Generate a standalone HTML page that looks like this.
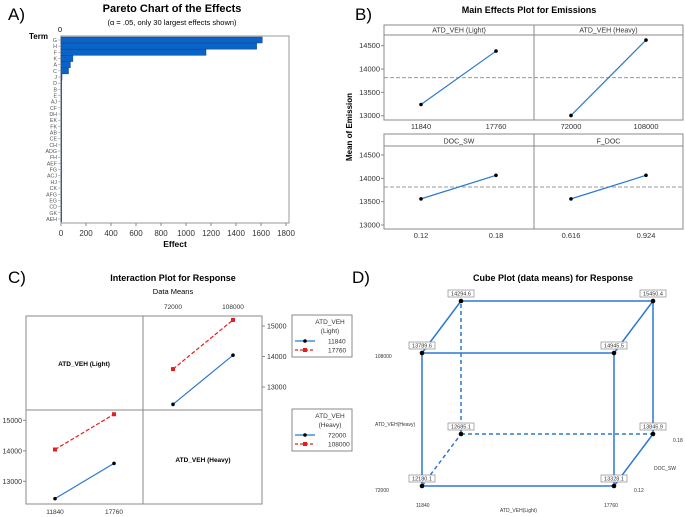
<!DOCTYPE html>
<html><head><meta charset="utf-8"><style>
body{margin:0;background:#fff}
svg{display:block;font-family:"Liberation Sans",Arial,sans-serif}
</style></head><body>
<svg id="s" width="685" height="517" viewBox="0 0 685 517">
<g>
<text x="8" y="20" font-size="17">A)</text>
<text x="172" y="12" font-size="11" font-weight="bold" text-anchor="middle">Pareto Chart of the Effects</text>
<text x="172" y="25" font-size="7.5" text-anchor="middle">(α = .05, only 30 largest effects shown)</text>
<text x="60" y="32" font-size="7.5" text-anchor="middle">0</text>
<text x="29" y="39" font-size="8" font-weight="bold">Term</text>
<rect x="61" y="36" width="228" height="187" fill="none" stroke="#999"/>
<g id="pa"></g>
<text x="175" y="247" font-size="8.5" font-weight="bold" text-anchor="middle">Effect</text>
</g>
<g>
<text x="355" y="20" font-size="17">B)</text>
<text x="529" y="13" font-size="9" font-weight="bold" text-anchor="middle">Main Effects Plot for Emissions</text>
<text transform="translate(352,127) rotate(-90)" font-size="8" font-weight="bold" text-anchor="middle">Mean of Emission</text>
<g id="pb"></g>
</g>
<g>
<text x="8" y="283" font-size="17">C)</text>
<text x="173" y="281" font-size="9" font-weight="bold" text-anchor="middle">Interaction Plot for Response</text>
<text x="173" y="294" font-size="7.5" text-anchor="middle">Data Means</text>
<rect x="26" y="316" width="236" height="188" fill="none" stroke="#888"/>
<line x1="143" y1="316" x2="143" y2="504" stroke="#888"/>
<line x1="26" y1="410" x2="262" y2="410" stroke="#888"/>
<text x="84" y="366" font-size="6.5" font-weight="bold" text-anchor="middle">ATD_VEH (Light)</text>
<text x="203" y="462" font-size="6.5" font-weight="bold" text-anchor="middle">ATD_VEH (Heavy)</text>
<g id="pc"></g>
</g>
<g>
<text x="352" y="283" font-size="17">D)</text>
<text x="553" y="281" font-size="9" font-weight="bold" text-anchor="middle">Cube Plot (data means) for Response</text>
<g id="pd"></g>
<g font-size="5" fill="#333">
<text x="375" y="358">108000</text>
<text x="375" y="492">72000</text>
<text x="375" y="426">ATD_VEH(Heavy)</text>
<text x="416" y="507">11840</text>
<text x="604" y="507">17760</text>
<text x="500" y="512">ATD_VEH(Light)</text>
<text x="673" y="442">0.18</text>
<text x="654" y="470">DOC_SW</text>
<text x="634" y="492">0.12</text>
</g>
</g>
</svg>
<script>
const NS='http://www.w3.org/2000/svg';
function E(p,t,a,txt){const e=document.createElementNS(NS,t);for(const k in a)e.setAttribute(k,a[k]);if(txt!==undefined)e.textContent=txt;p.appendChild(e);return e;}
// Panel A data
const paretoTerms=['G','H','F','K','A','C','J','D','B','E','AJ','CF','DH','EK','FK','AB','CE','CH','ADG','FH','AEF','FG','ACJ','HJ','CK','AFG','EG','CD','GK','AEH'];
const paretoEffects=[1610,1565,1160,95,75,60,8,5,3,2,2,2,2,2,2,2,2,2,2,2,2,2,2,2,2,2,2,2,2,2];
const paretoTicks=[0,200,400,600,800,1000,1200,1400,1600,1800];
// Panel B data
const mePanels=['ATD_VEH (Light)','ATD_VEH (Heavy)','DOC_SW','F_DOC'];
const meLevels=[['11840','17760'],['72000','108000'],['0.12','0.18'],['0.616','0.924']];
const meMeans=[[13240,14385],[13005,14620],[13560,14065],[13560,14065]];
const meGrand=13815;
const meTicks=[13000,13500,14000,14500];
// Panel C data
const icLight=['11840','17760'];
const icHeavy=['72000','108000'];
const icMeans=[[12432,14042],[13587,15198]]; // [light][heavy]
const icTicks=[13000,14000,15000];
// Panel D data
const cubeValues=[12180.1,13328.1,13789.6,14945.5,12685.1,13845.9,14294.6,15450.4]; // order: light,heavy,doc bits

// Panel A
(function(){
 const g=document.getElementById('pa');
 const x=v=>61+v*0.125, y=i=>40+i*6.17;
 paretoTerms.forEach((t,i)=>{
  const r=E(g,'rect',{x:61,y:y(i)-3,width:Math.max(0.6,x(paretoEffects[i])-61),height:6,fill:'#0a64c8',stroke:'#1a3f80','stroke-width':0.5});
  
  
  const l=E(g,'text',{x:57,y:y(i)+2,'font-size':5.3,'text-anchor':'end',fill:'#555'},t);
  
  
  E(g,'line',{x1:58,x2:61,y1:y(i),y2:y(i),stroke:'#888','stroke-width':0.5});
 });
 paretoTicks.forEach(v=>{
  E(g,'line',{x1:x(v),x2:x(v),y1:223,y2:226,stroke:'#888'});
  const t=E(g,'text',{x:x(v),y:236,'font-size':8,'text-anchor':'middle',fill:'#333'},v);
  
  
 });
})();
// Panel B
(function(){
 const g=document.getElementById('pb');
 const cols=[[384,534],[534,683]], rows=[{h:25,t:35,b:120,y0:115.7},{h:134,t:146,b:229,y0:225}];
 mePanels.forEach((name,k)=>{
  const c=cols[k%2], r=rows[Math.floor(k/2)];
  const y=v=>r.y0-(v-13000)*70/1500;
  const xs=[c[0]+37,c[0]+112];
  const p=E(g,'rect',{x:c[0],y:r.h,width:c[1]-c[0],height:r.b-r.h,fill:'none',stroke:'#888'});
  
  
  E(g,'line',{x1:c[0],x2:c[1],y1:r.t,y2:r.t,stroke:'#888'});
  const h=E(g,'text',{x:(c[0]+c[1])/2,y:r.t-2.5,'font-size':7,'text-anchor':'middle',fill:'#333'},name);
  
  
  E(g,'line',{x1:c[0],x2:c[1],y1:y(meGrand),y2:y(meGrand),stroke:'#999','stroke-dasharray':'4,2'});
  E(g,'line',{x1:xs[0],y1:y(meMeans[k][0]),x2:xs[1],y2:y(meMeans[k][1]),stroke:'#2a78d4','stroke-width':1.2});
  meMeans[k].forEach((v,i)=>{
   const d=E(g,'circle',{cx:xs[i],cy:y(v),r:1.8,fill:'#000'});
   
   
   const t=E(g,'text',{x:xs[i],y:r.b+9,'font-size':7.5,'text-anchor':'middle',fill:'#333'},meLevels[k][i]);
   
   
  });
  if(k%2===0) meTicks.forEach(v=>{
   const yy=y(meTicks[meTicks.indexOf(v)]);
   E(g,'line',{x1:381,x2:384,y1:yy,y2:yy,stroke:'#888'});
   const t=E(g,'text',{x:380,y:yy+2.5,'font-size':7.5,'text-anchor':'end',fill:'#333'},v);
   
   
  });
 });
})();
// Panel C
(function(){
 const g=document.getElementById('pc');
 const series=(pts,idx,pfx)=>{
  const col=idx?'#e81c1c':'#2a78d4';
  E(g,'line',{x1:pts[0][0],y1:pts[0][1],x2:pts[1][0],y2:pts[1][1],stroke:col,'stroke-width':1.2,'stroke-dasharray':idx?'4,2':'none'});
  pts.forEach(p=>{
   const m=idx?E(g,'rect',{x:p[0]-2,y:p[1]-2,width:4,height:4,fill:'#e81c1c'}):E(g,'circle',{cx:p[0],cy:p[1],r:1.8,fill:'#000'});
   
   
  });
 };
 // top-right: x=heavy, lines per light
 const xTR=i=>173+i*60, yTR=v=>387-(v-13000)*30.5/1000;
 icLight.forEach((l,li)=>series(icHeavy.map((h,hi)=>[xTR(hi),yTR(icMeans[li][hi])]),li,'light-'+l));
 // bottom-left: x=light, lines per heavy
 const xBL=i=>55+i*59, yBL=v=>481.3-(v-13000)*30.5/1000;
 icHeavy.forEach((h,hi)=>series(icLight.map((l,li)=>[xBL(li),yBL(icMeans[li][hi])]),hi,'heavy-'+h));
 icHeavy.forEach((h,i)=>{const t=E(g,'text',{x:xTR(i),y:309,'font-size':6.5,'text-anchor':'middle',fill:'#333'},h);});
 icLight.forEach((l,i)=>{const t=E(g,'text',{x:xBL(i),y:514,'font-size':6.5,'text-anchor':'middle',fill:'#333'},l);});
 icTicks.forEach(v=>{
  E(g,'line',{x1:262,x2:265,y1:yTR(v),y2:yTR(v),stroke:'#888'});
  let t=E(g,'text',{x:267,y:yTR(v)+2.5,'font-size':7,fill:'#333'},v);
  E(g,'line',{x1:23,x2:26,y1:yBL(v),y2:yBL(v),stroke:'#888'});
  t=E(g,'text',{x:22,y:yBL(v)+2.5,'font-size':7,'text-anchor':'end',fill:'#333'},v);
 });
 [[315,'ATD_VEH','(Light)',icLight,'legend-light'],[409,'ATD_VEH','(Heavy)',icHeavy,'legend-heavy']].forEach(L=>{
  const y0=L[0];
  const b=E(g,'rect',{x:292,y:y0,width:60,height:42,fill:'#fff',stroke:'#888'});
  
  
  E(g,'text',{x:330,y:y0+9,'font-size':6.5,'text-anchor':'middle',fill:'#333'},L[1]);
  E(g,'text',{x:330,y:y0+18,'font-size':6.5,'text-anchor':'middle',fill:'#333'},L[2]);
  L[3].forEach((v,i)=>{
   const yy=y0+26+i*9;
   E(g,'line',{x1:295,x2:315,y1:yy,y2:yy,stroke:i?'#e81c1c':'#2a78d4','stroke-width':1.2,'stroke-dasharray':i?'3,2':'none'});
   if(i)E(g,'rect',{x:303,y:yy-2,width:4,height:4,fill:'#e81c1c'});else E(g,'circle',{cx:305,cy:yy,r:1.8,fill:'#000'});
   const t=E(g,'text',{x:328,y:yy+2.5,'font-size':6.5,fill:'#333'},v);
   
   
  });
 });
})();
// Panel D
(function(){
 const g=document.getElementById('pd');
 const P=i=>{const l=i&1,h=(i>>1)&1,d=(i>>2)&1;return [422+l*192+d*39,486-h*133-d*52];};
 const edges=[[0,1],[2,3],[0,2],[1,3],[4,5],[6,7],[4,6],[5,7],[0,4],[1,5],[2,6],[3,7]];
 edges.forEach(e=>{
  const dashed=(e.includes(4));
  const a=P(e[0]),b=P(e[1]);
  E(g,'line',{x1:a[0],y1:a[1],x2:b[0],y2:b[1],stroke:'#2a78d4','stroke-width':1.5,'stroke-dasharray':dashed?'4,3':'none'});
 });
 cubeValues.forEach((v,i)=>{
  const p=P(i);
  const d=E(g,'circle',{cx:p[0],cy:p[1],r:2.3,fill:'#000'});
  
  
  E(g,'rect',{x:p[0]-13,y:p[1]-11,width:26,height:7,fill:'#fff',stroke:'#777','stroke-width':0.6});
  const t=E(g,'text',{x:p[0],y:p[1]-5.3,'font-size':5.5,'text-anchor':'middle',fill:'#333'},v.toFixed(1));
  
  
 });
})();
</script>
</body></html>
